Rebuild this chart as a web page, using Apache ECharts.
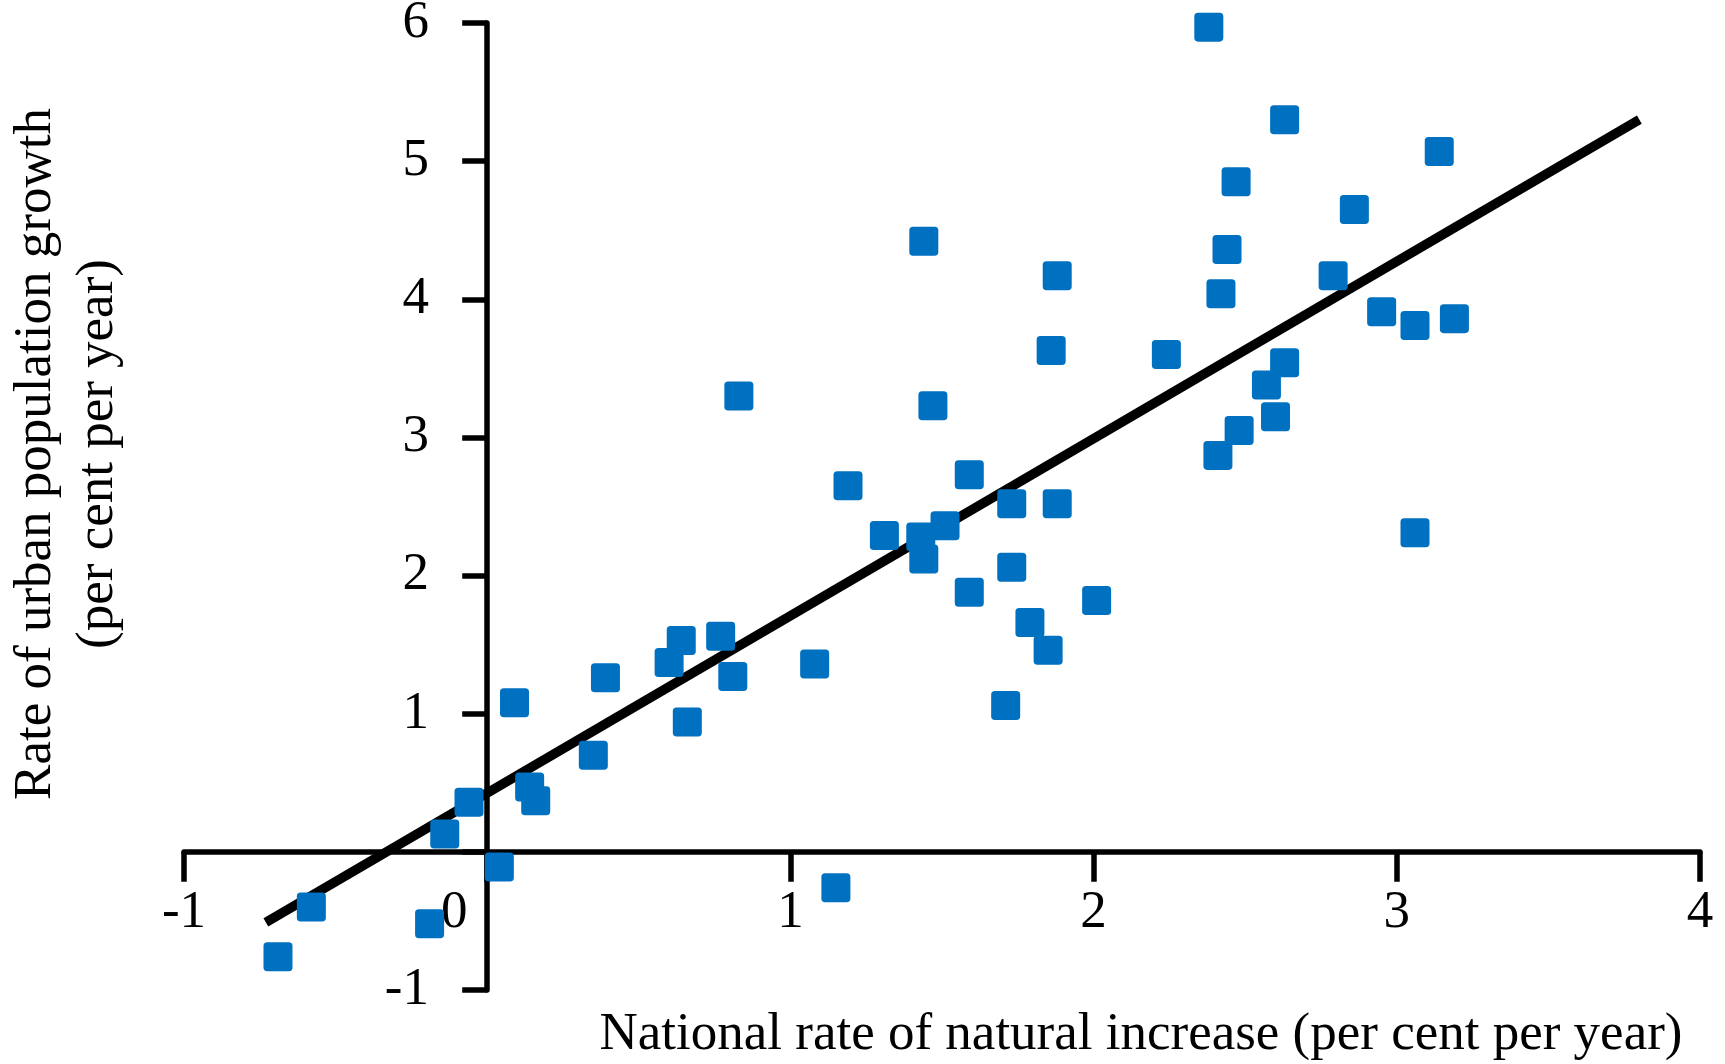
<!DOCTYPE html>
<html>
<head>
<meta charset="utf-8">
<script src="https://cdn.jsdelivr.net/npm/echarts@6/dist/echarts.min.js"></script>
<style>
  html, body { margin: 0; padding: 0; background: #fff; }
  #chart { width: 1725px; height: 1064px; }
</style>
</head>
<body>
<div id="chart"></div>
<script>
// national rate of natural increase (x) and urban growth (y), one entry per country
const natIncrease = [-0.69, -0.58, -0.19, -0.14, -0.06, 0.04, 0.09, 0.14, 0.16, 0.35,
  0.39, 0.60, 0.64, 0.66, 0.77, 0.81, 0.83, 1.08, 1.15, 1.19,
  1.31, 1.44, 1.43, 1.44, 1.47, 1.51, 1.59, 1.59, 1.71, 1.73,
  1.73, 1.79, 1.85, 1.86, 1.88, 1.88, 2.01, 2.24, 2.38, 2.41,
  2.42, 2.44, 2.47, 2.48, 2.57, 2.60, 2.63, 2.63, 2.79, 2.86,
  2.95, 3.06, 3.06, 3.14, 3.19];
const urbanGrowth = [-0.76, -0.40, -0.52, 0.13, 0.36, -0.11, 1.08, 0.47, 0.37, 0.70,
  1.26, 1.37, 1.53, 0.94, 1.56, 1.27, 3.30, 1.36, -0.26, 2.65,
  2.29, 4.42, 2.28, 2.12, 3.23, 2.36, 2.73, 1.88, 1.06, 2.52,
  2.06, 1.66, 1.46, 3.63, 4.17, 2.52, 1.82, 3.60, 5.97, 2.87,
  4.04, 4.36, 4.85, 3.05, 3.38, 3.15, 3.54, 5.30, 4.17, 4.65,
  3.91, 3.81, 2.31, 5.07, 3.86];

// fitted line end points
const trendX = [-0.73, 3.80];
const trendY = [-0.51, 5.30];

const xTitle = "National rate of natural increase (per cent per year)";
const yTitle = "Rate of urban population growth\n(per cent per year)";

const font = "'Liberation Serif', 'Times New Roman', serif";
const fontSize = 53;

let myChart = echarts.init(document.getElementById("chart"));

// labels are laid out from the grid edge, so pull them in to the crossing axes
let option = {
  backgroundColor: "#fff",
  animation: false,
  grid: {
    left: 184,
    right: 25,
    top: 23,
    bottom: 74,
    containLabel: false,
    outerBoundsMode: "none",
  },
  xAxis: {
    type: "value",
    min: -1,
    max: 4,
    interval: 1,
    splitLine: { show: false },
    axisLine: { onZero: true, lineStyle: { color: "#000", width: 5.5 } },
    axisTick: { show: true, length: 30, lineStyle: { color: "#000", width: 5.5 } },
    axisLabel: {
      margin: -103,
      color: "#000",
      fontFamily: font,
      fontSize: fontSize,
      formatter: (v) => (v === 0 ? "{z|0}" : String(v)),
      rich: {
        z: { fontFamily: font, fontSize: fontSize, color: "#000", padding: [0, 66, 0, 0] },
      },
    },
  },
  yAxis: {
    type: "value",
    min: -1,
    max: 6,
    interval: 1,
    splitLine: { show: false },
    axisLine: { onZero: true, lineStyle: { color: "#000", width: 5.5 } },
    axisTick: { show: true, length: 25, lineStyle: { color: "#000", width: 5.5 } },
    axisLabel: {
      margin: -245,
      color: "#000",
      fontFamily: font,
      fontSize: fontSize,
      padding: [8, 0, 0, 0],
      formatter: (v) => (v === 0 ? "" : String(v)),
    },
  },
  graphic: [
    {
      type: "text",
      x: 67,
      y: 454,
      rotation: Math.PI / 2,
      style: {
        text: yTitle,
        fontFamily: font,
        fontSize: fontSize,
        lineHeight: 62,
        fill: "#000",
        align: "center",
        verticalAlign: "middle",
      },
    },
    {
      type: "text",
      x: 1141,
      y: 1035,
      style: {
        text: xTitle,
        fontFamily: font,
        fontSize: fontSize,
        fill: "#000",
        align: "center",
        verticalAlign: "middle",
      },
    },
  ],
  series: [
    {
      type: "line",
      data: trendX.map((x, i) => [x, trendY[i]]),
      symbol: "none",
      z: 2,
      lineStyle: { color: "#000", width: 9.5, cap: "butt" },
    },
    {
      type: "scatter",
      data: natIncrease.map((x, i) => [x, urbanGrowth[i]]),
      symbol: "path://M1.3,0 H8.7 Q10,0 10,1.3 V8.7 Q10,10 8.7,10 H1.3 Q0,10 0,8.7 V1.3 Q0,0 1.3,0 Z",
      symbolSize: 29,
      z: 3,
      itemStyle: { color: "#0070c0", opacity: 1 },
    },
  ],
};
myChart.setOption(option);
</script>
</body>
</html>
